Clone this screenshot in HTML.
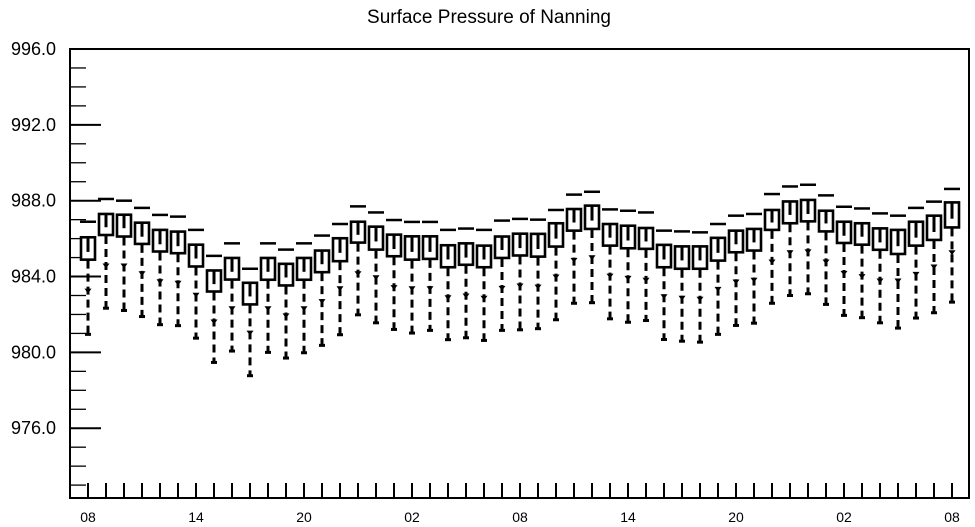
<!DOCTYPE html>
<html><head><meta charset="utf-8"><style>
html,body{margin:0;padding:0;background:#fff;}
svg{display:block;font-family:"Liberation Sans",sans-serif;}
</style></head><body>
<svg id="chart" width="975" height="527" viewBox="0 0 975 527">
<text x="489" y="23" text-anchor="middle" font-size="19">Surface Pressure of Nanning</text>
<g id="axes"></g>
<g id="boxes"></g>
</svg>
<script>
const hours = ["08","09","10","11","12","13","14","15","16","17","18","19","20","21","22","23","00","01","02","03","04","05","06","07","08","09","10","11","12","13","14","15","16","17","18","19","20","21","22","23","00","01","02","03","04","05","06","07","08"];
const q3 = [986.07,987.30,987.26,986.84,986.46,986.37,985.68,984.32,984.98,983.67,984.98,984.67,984.98,985.37,986.02,986.89,986.63,986.21,986.12,986.12,985.65,985.75,985.63,986.11,986.26,986.25,986.81,987.56,987.74,986.77,986.68,986.56,985.67,985.59,985.59,986.04,986.42,986.51,987.51,987.96,988.04,987.47,986.89,986.81,986.54,986.46,986.89,987.21,987.91];
const q1 = [984.89,986.19,986.11,985.72,985.32,985.23,984.53,983.21,983.84,982.53,983.83,983.53,983.83,984.23,984.81,985.79,985.42,985.07,984.89,984.93,984.49,984.62,984.49,984.98,985.11,985.05,985.58,986.42,986.51,985.63,985.49,985.46,984.49,984.41,984.41,984.84,985.28,985.37,986.46,986.81,986.91,986.38,985.77,985.68,985.41,985.19,985.63,985.93,986.59];
const medians = [985.30,986.60,986.55,986.10,985.70,985.60,984.95,983.60,984.25,982.95,984.25,983.95,984.25,984.65,985.25,986.20,985.85,985.45,985.30,985.30,984.90,985.00,984.90,985.40,985.50,985.45,986.00,986.85,986.95,986.05,985.90,985.85,984.90,984.85,984.85,985.25,985.70,985.80,986.85,987.25,987.30,986.80,986.15,986.10,985.80,985.60,986.05,986.35,987.05];
const maxes = [986.89,988.09,988.00,987.62,987.25,987.16,986.46,985.09,985.75,984.41,985.75,985.42,985.75,986.16,986.77,987.70,987.38,986.98,986.88,986.88,986.46,986.53,986.46,986.95,987.04,987.00,987.51,988.32,988.47,987.54,987.47,987.38,986.42,986.38,986.33,986.77,987.21,987.30,988.35,988.75,988.84,988.28,987.68,987.59,987.33,987.21,987.62,987.95,988.62];
const lowMarks = [983.26,984.58,984.58,984.17,983.75,983.67,983.04,981.63,982.33,981.04,982.33,981.95,982.33,982.70,983.38,984.17,983.96,983.44,983.38,983.38,982.91,983.00,982.88,983.40,983.53,983.47,984.00,984.88,985.02,984.05,983.93,983.83,982.96,982.88,982.83,983.35,983.74,983.83,984.79,985.28,985.33,984.79,984.19,984.02,983.79,983.79,984.14,984.53,985.28];
const mins = [980.95,982.33,982.21,981.89,981.46,981.41,980.75,979.47,980.07,978.77,980.00,979.70,979.98,980.37,980.93,981.98,981.56,981.21,981.02,981.16,980.67,980.77,980.63,981.16,981.19,981.25,981.72,982.59,982.62,981.77,981.59,981.68,980.68,980.59,980.54,980.95,981.42,981.54,982.59,983.00,983.09,982.53,981.95,981.83,981.56,981.28,981.81,982.09,982.65];
const yTicks = ["996.0","992.0","988.0","984.0","980.0","976.0"];
const xLabelEvery = 6;

const NS = "http://www.w3.org/2000/svg";
const X0 = 70, X1 = 969, Y0 = 49, Y1 = 498;
const yMax = 996, yMin = 972.32;
function y(v){ return Y0 + (yMax - v) * (Y1 - Y0) / (yMax - yMin); }
function x(i){ return 88 + i * 18; }
function mk(tag, attrs, parent){
  const e = document.createElementNS(NS, tag);
  for (const k in attrs) e.setAttribute(k, attrs[k]);
  parent.appendChild(e);
  return e;
}
const axes = document.getElementById("axes");
const boxes = document.getElementById("boxes");

const frame = mk("rect", {x:X0, y:Y0, width:X1-X0, height:Y1-Y0, fill:"none", stroke:"#000", "stroke-width":2}, axes);



for (let v = 973; v <= 996; v++) {
  const major = (996 - v) % 4 === 0;
  const t = mk("line", {x1:X0, x2:X0 + (major ? 31 : 16), y1:y(v), y2:y(v), stroke:"#000", "stroke-width":major ? 2 : 1.3}, axes);
  
  
}
yTicks.forEach(s => {
  const t = mk("text", {x:56, y:y(parseFloat(s)) + 6, "text-anchor":"end", "font-size":18}, axes);
  t.textContent = s;
  
  
});
hours.forEach((h, i) => {
  const t = mk("line", {x1:x(i), x2:x(i), y1:Y1, y2:Y1 - 15, stroke:"#000", "stroke-width":2}, axes);
  
  
  if (i % xLabelEvery === 0) {
    const l = mk("text", {x:x(i), y:522, "text-anchor":"middle", "font-size":14}, axes);
    l.textContent = h;
    
    
  }
});

hours.forEach((h, i) => {
  const cx = x(i);
  const g = mk("g", {}, boxes);
  
  
  mk("line", {x1:cx - 8, x2:cx + 8, y1:y(maxes[i]), y2:y(maxes[i]), stroke:"#000", "stroke-width":2.5}, g);
  mk("line", {x1:cx, x2:cx, y1:y(q1[i]) + 1, y2:y(mins[i]), stroke:"#000", "stroke-width":3, "stroke-dasharray":"8,5"}, g);
  mk("line", {x1:cx - 3, x2:cx + 3, y1:y(mins[i]), y2:y(mins[i]), stroke:"#000", "stroke-width":3}, g);
  mk("path", {d:`M${cx-3.5},${y(lowMarks[i])-2} L${cx+3.5},${y(lowMarks[i])-2} L${cx},${y(lowMarks[i])+3} Z`, fill:"#000"}, g);
  mk("rect", {x:cx - 7, y:y(q3[i]), width:14, height:y(q1[i]) - y(q3[i]), fill:"#fff", stroke:"#000", "stroke-width":2.6}, g);
  mk("line", {x1:cx, x2:cx, y1:y(q3[i]), y2:y(medians[i]), stroke:"#000", "stroke-width":3}, g);
});
</script>
</body></html>
